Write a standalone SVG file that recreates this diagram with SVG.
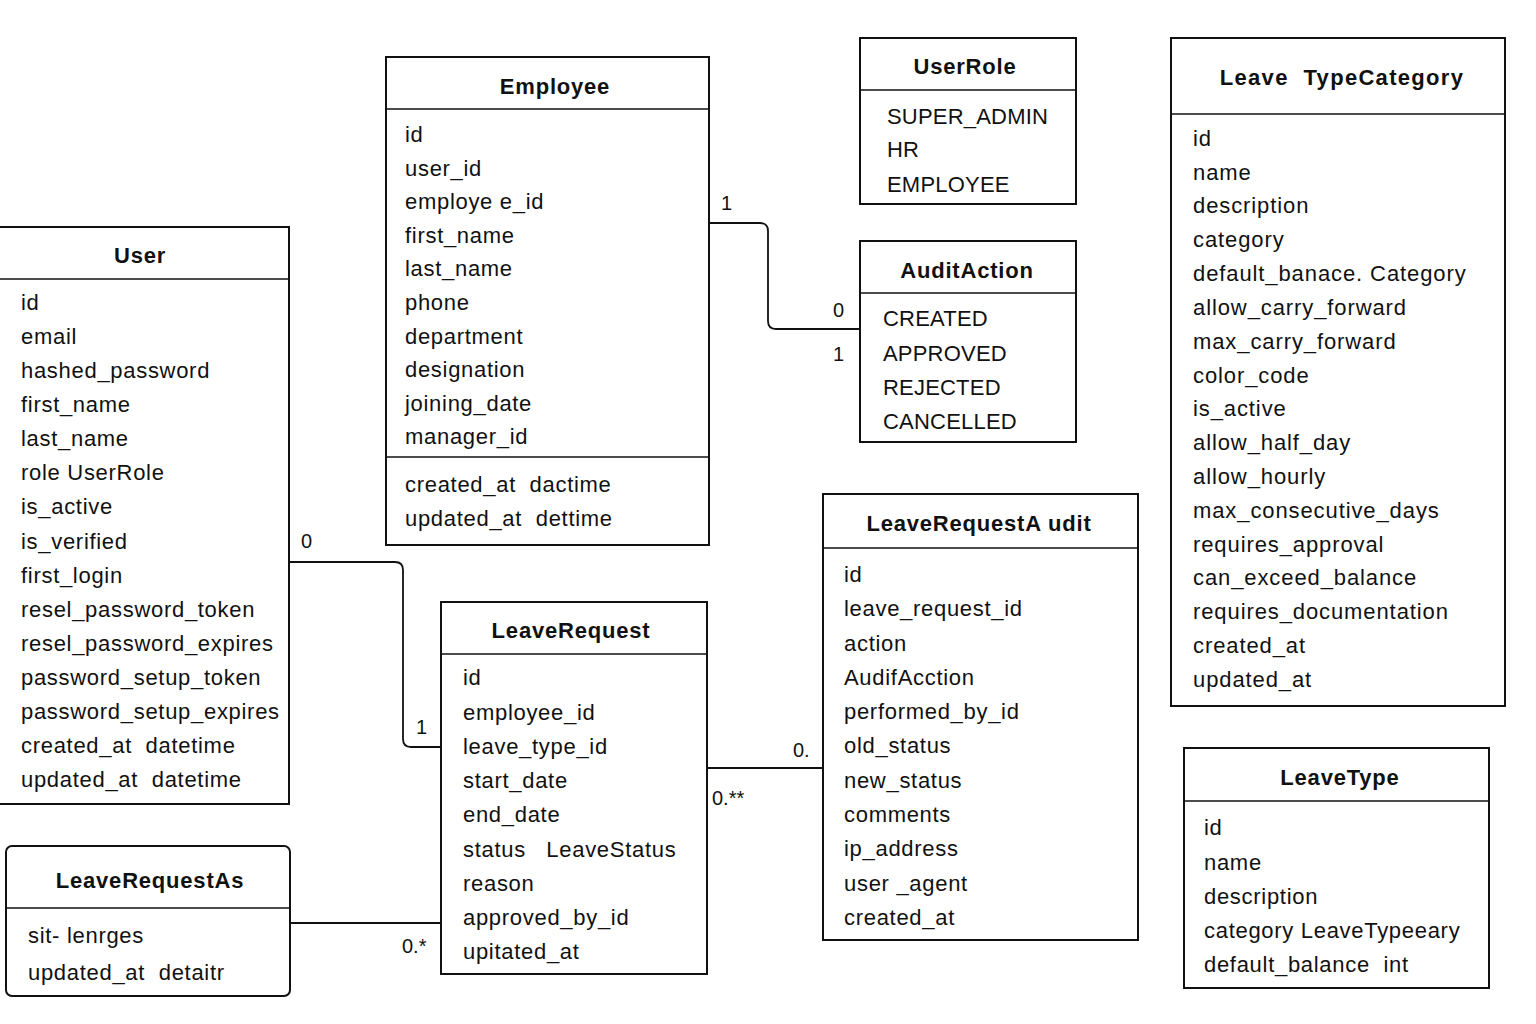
<svg xmlns="http://www.w3.org/2000/svg" width="1536" height="1024" viewBox="0 0 1536 1024">
<style>
.box{fill:#fff;stroke:#111;stroke-width:2}
.div{stroke:#111;stroke-width:1.5}
text{white-space:pre}
.t{font-family:"Liberation Sans",Arial,sans-serif;font-weight:bold;font-size:22px;fill:#111;text-anchor:middle;letter-spacing:0.8px}
.f{font-family:"Liberation Sans",Arial,sans-serif;font-size:22px;fill:#111;letter-spacing:0.7px}
.w{letter-spacing:0.9px}
.c{letter-spacing:0.2px}
.lbl{font-family:"Liberation Sans",Arial,sans-serif;font-size:20px;fill:#111}
.conn{fill:none;stroke:#111;stroke-width:1.8}
</style>
<rect width="1536" height="1024" fill="#fff"/>
<g id="connectors">
<path class="conn" d="M709,223 H760 Q768,223 768,231 V321 Q768,329 776,329 H860"/>
<path class="conn" d="M289,562 H395 Q403,562 403,570 V739 Q403,747 411,747 H441"/>
<path class="conn" d="M290,923 H441"/>
<path class="conn" d="M707,768 H823"/>
<text class="lbl" x="721" y="210">1</text>
<text class="lbl" x="833" y="317">0</text>
<text class="lbl" x="833" y="361">1</text>
<text class="lbl" x="301" y="548">0</text>
<text class="lbl" x="416" y="734">1</text>
<text class="lbl" x="402" y="953">0.*</text>
<text class="lbl" x="793" y="757">0.</text>
<text class="lbl" x="712" y="805">0.**</text>
</g>
<g id="User">
<rect class="box" x="-1" y="227" width="290" height="577"/>
<line class="div" x1="0" y1="279" x2="289" y2="279"/>
<text class="t" x="140" y="263">User</text>
<text class="f" x="21" y="310">id</text>
<text class="f" x="21" y="344">email</text>
<text class="f" x="21" y="378">hashed_password</text>
<text class="f" x="21" y="412">first_name</text>
<text class="f" x="21" y="446">last_name</text>
<text class="f" x="21" y="480">role UserRole</text>
<text class="f" x="21" y="514">is_active</text>
<text class="f" x="21" y="549">is_verified</text>
<text class="f" x="21" y="583">first_login</text>
<text class="f" x="21" y="617">resel_password_token</text>
<text class="f" x="21" y="651">resel_password_expires</text>
<text class="f" x="21" y="685">password_setup_token</text>
<text class="f" x="21" y="719">password_setup_expires</text>
<text class="f" x="21" y="753">created_at  datetime</text>
<text class="f" x="21" y="787">updated_at  datetime</text>
</g>
<g id="Employee">
<rect class="box" x="386" y="57" width="323" height="488"/>
<line class="div" x1="386" y1="109" x2="709" y2="109"/>
<line class="div" x1="386" y1="457" x2="709" y2="457"/>
<text class="t" x="555" y="94">Employee</text>
<text class="f" x="405" y="142">id</text>
<text class="f" x="405" y="176">user_id</text>
<text class="f" x="405" y="209">employe e_id</text>
<text class="f" x="405" y="243">first_name</text>
<text class="f" x="405" y="276">last_name</text>
<text class="f" x="405" y="310">phone</text>
<text class="f" x="405" y="344">department</text>
<text class="f" x="405" y="377">designation</text>
<text class="f" x="405" y="411">joining_date</text>
<text class="f" x="405" y="444">manager_id</text>
<text class="f" x="405" y="492">created_at  dactime</text>
<text class="f" x="405" y="526">updated_at  dettime</text>
</g>
<g id="UserRole">
<rect class="box" x="860" y="38" width="216" height="166"/>
<line class="div" x1="860" y1="90" x2="1076" y2="90"/>
<text class="t" x="965" y="74">UserRole</text>
<text class="f c" x="887" y="124">SUPER_ADMIN</text>
<text class="f c" x="887" y="157">HR</text>
<text class="f c" x="887" y="192">EMPLOYEE</text>
</g>
<g id="AuditAction">
<rect class="box" x="860" y="241" width="216" height="201"/>
<line class="div" x1="860" y1="293" x2="1076" y2="293"/>
<text class="t" x="967" y="278">AuditAction</text>
<text class="f c" x="883" y="326">CREATED</text>
<text class="f c" x="883" y="361">APPROVED</text>
<text class="f c" x="883" y="395">REJECTED</text>
<text class="f c" x="883" y="429">CANCELLED</text>
</g>
<g id="LeaveTypeCategory">
<rect class="box" x="1171" y="38" width="334" height="668"/>
<line class="div" x1="1171" y1="114" x2="1505" y2="114"/>
<text class="t" x="1342" y="85" style="letter-spacing:1.3px">Leave  TypeCategory</text>
<text class="f w" x="1193" y="146">id</text>
<text class="f w" x="1193" y="180">name</text>
<text class="f w" x="1193" y="213">description</text>
<text class="f w" x="1193" y="247">category</text>
<text class="f w" x="1193" y="281">default_banace. Category</text>
<text class="f w" x="1193" y="315">allow_carry_forward</text>
<text class="f w" x="1193" y="349">max_carry_forward</text>
<text class="f w" x="1193" y="383">color_code</text>
<text class="f w" x="1193" y="416">is_active</text>
<text class="f w" x="1193" y="450">allow_half_day</text>
<text class="f w" x="1193" y="484">allow_hourly</text>
<text class="f w" x="1193" y="518">max_consecutive_days</text>
<text class="f w" x="1193" y="552">requires_approval</text>
<text class="f w" x="1193" y="585">can_exceed_balance</text>
<text class="f w" x="1193" y="619">requires_documentation</text>
<text class="f w" x="1193" y="653">created_at</text>
<text class="f w" x="1193" y="687">updated_at</text>
</g>
<g id="LeaveType">
<rect class="box" x="1184" y="748" width="305" height="240"/>
<line class="div" x1="1184" y1="801" x2="1489" y2="801"/>
<text class="t" x="1340" y="785">LeaveType</text>
<text class="f" x="1204" y="835">id</text>
<text class="f" x="1204" y="870">name</text>
<text class="f" x="1204" y="904">description</text>
<text class="f" x="1204" y="938">category LeaveTypeeary</text>
<text class="f" x="1204" y="972">default_balance  int</text>
</g>
<g id="LeaveRequestAudit">
<rect class="box" x="823" y="494" width="315" height="446"/>
<line class="div" x1="823" y1="548" x2="1138" y2="548"/>
<text class="t" x="979" y="531">LeaveRequestA udit</text>
<text class="f" x="844" y="582">id</text>
<text class="f" x="844" y="616">leave_request_id</text>
<text class="f" x="844" y="651">action</text>
<text class="f" x="844" y="685">AudifAcction</text>
<text class="f" x="844" y="719">performed_by_id</text>
<text class="f" x="844" y="753">old_status</text>
<text class="f" x="844" y="788">new_status</text>
<text class="f" x="844" y="822">comments</text>
<text class="f" x="844" y="856">ip_address</text>
<text class="f" x="844" y="891">user _agent</text>
<text class="f" x="844" y="925">created_at</text>
</g>
<g id="LeaveRequest">
<rect class="box" x="441" y="602" width="266" height="372"/>
<line class="div" x1="441" y1="654" x2="707" y2="654"/>
<text class="t" x="571" y="638">LeaveRequest</text>
<text class="f" x="463" y="685">id</text>
<text class="f" x="463" y="720">employee_id</text>
<text class="f" x="463" y="754">leave_type_id</text>
<text class="f" x="463" y="788">start_date</text>
<text class="f" x="463" y="822">end_date</text>
<text class="f" x="463" y="857">status   LeaveStatus</text>
<text class="f" x="463" y="891">reason</text>
<text class="f" x="463" y="925">approved_by_id</text>
<text class="f" x="463" y="959">upitated_at</text>
</g>
<g id="LeaveRequestAs">
<rect class="box" x="6" y="846" width="284" height="150" rx="6"/>
<line class="div" x1="6" y1="908" x2="290" y2="908"/>
<text class="t" x="150" y="888">LeaveRequestAs</text>
<text class="f" x="28" y="943">sit- lenrges</text>
<text class="f" x="28" y="980">updated_at  detaitr</text>
</g>
</svg>
